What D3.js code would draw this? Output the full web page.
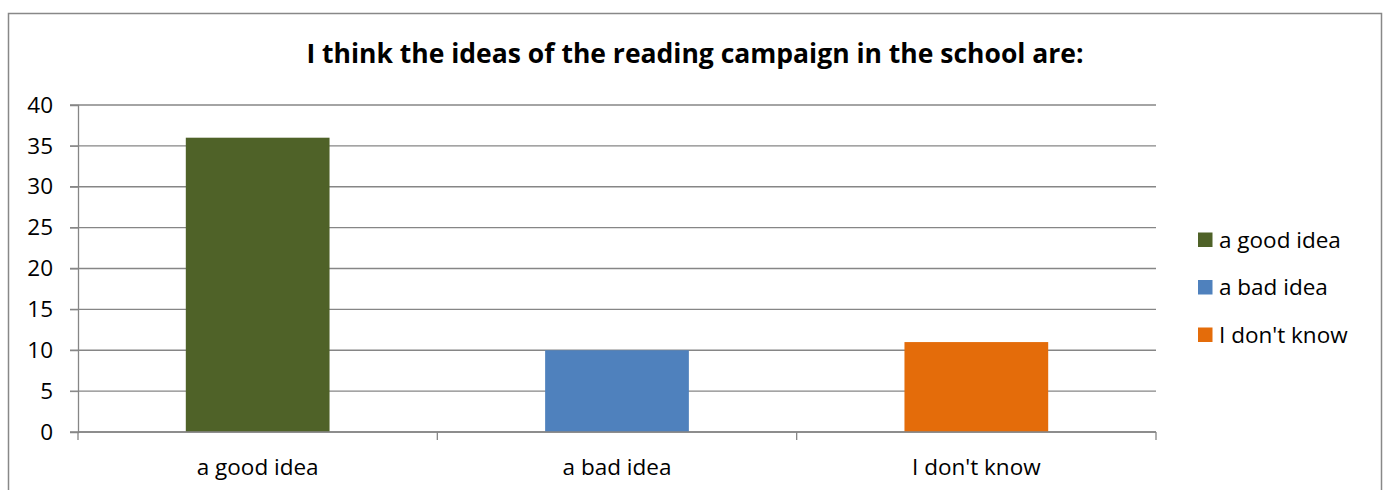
<!DOCTYPE html>
<html>
<head>
<meta charset="utf-8">
<script src="https://cdn.jsdelivr.net/npm/d3@7"></script>
<style>
    body { margin: 0; background: #fff; }
    svg text { font-family: "Open Sans", "Noto Sans", sans-serif; fill: #000; }
</style>
</head>
<body>
<div id="chart"></div>
<script>
// data
const categories = ['a good idea', 'a bad idea', "I don't know"];
const values = [36, 10, 11];
const colors = ['#4F6228', '#4F81BD', '#E46C0A'];
const yTicks = [0, 5, 10, 15, 20, 25, 30, 35, 40];
const title = 'I think the ideas of the reading campaign in the school are:';

const W = 1389, H = 490;
const margin = {top: 105, left: 78, right: 233, bottom: 58};
const width = W - margin.left - margin.right;   // plot area
const height = H - margin.top - margin.bottom;
const fs = '22.5px';

const svg = d3.select('#chart').append('svg')
    .attr('width', W).attr('height', H);

// outer frame (bottom edge is cut off in the original)
svg.append('path')
    .attr('d', 'M8.5,' + H + ' V13.5 H1381.5 V' + H)
    .attr('fill', 'none')
    .attr('stroke', '#888')
    .attr('stroke-width', 1.5);

svg.append('text')
    .attr('x', 695).attr('y', 63)
    .attr('text-anchor', 'middle')
    .style('font-size', '26.5px')
    .style('font-weight', 'bold')
    .text(title);

const g = svg.append('g').attr('transform', 'translate(' + margin.left + ',' + margin.top + ')');

const x = d3.scaleBand().domain(categories).range([0, width]).paddingInner(0).paddingOuter(0);
const y = d3.scaleLinear().domain([0, 40]).range([height, 0]);

// gridlines
g.selectAll('.grid')
    .data(yTicks).enter()
    .append('line')
    .attr('x1', -8).attr('x2', width)
    .attr('y1', d => y(d)).attr('y2', d => y(d))
    .attr('stroke', '#868686')
    .attr('stroke-width', 1.3);

// y axis
const yAxis = g.append('g')
    .call(d3.axisLeft(y).tickValues(yTicks).tickSize(8).tickPadding(17));
yAxis.select('.domain').attr('stroke', '#868686').attr('stroke-width', 1.3);
yAxis.selectAll('.tick line').attr('stroke', '#868686');
yAxis.selectAll('.tick text').style('font-size', fs);

// bars
const bw = x.bandwidth() * 0.4;
g.selectAll('.bar')
    .data(values).enter()
    .append('rect')
    .attr('x', (d, i) => x(categories[i]) + (x.bandwidth() - bw) / 2)
    .attr('y', d => y(d))
    .attr('width', bw)
    .attr('height', d => height - y(d))
    .attr('fill', (d, i) => colors[i]);

// x axis
const xAxis = g.append('g')
    .attr('transform', 'translate(0,' + height + ')')
    .call(d3.axisBottom(x).tickSize(0).tickPadding(27));
xAxis.select('.domain').remove();
xAxis.selectAll('.tick text').style('font-size', fs);
g.append('line')
    .attr('x1', 0).attr('x2', width)
    .attr('y1', height).attr('y2', height)
    .attr('stroke', '#868686').attr('stroke-width', 1.3);
// boundary ticks between categories
const bounds = categories.map(c => x(c)).concat([width]);
g.selectAll('.xtick')
    .data(bounds).enter()
    .append('line')
    .attr('x1', d => d).attr('x2', d => d)
    .attr('y1', height).attr('y2', height + 8)
    .attr('stroke', '#868686').attr('stroke-width', 1.3);

// legend
const legend = svg.append('g').attr('transform', 'translate(1198,240)');
const item = legend.selectAll('.item')
    .data(categories).enter()
    .append('g')
    .attr('transform', (d, i) => 'translate(0,' + i * 47.5 + ')');
item.append('rect')
    .attr('x', 0).attr('y', -7.5)
    .attr('width', 14.5).attr('height', 14.5)
    .attr('fill', (d, i) => colors[i]);
item.append('text')
    .attr('x', 21).attr('y', 0)
    .attr('dy', '0.35em')
    .style('font-size', fs)
    .text(d => d);
</script>
</body>
</html>
